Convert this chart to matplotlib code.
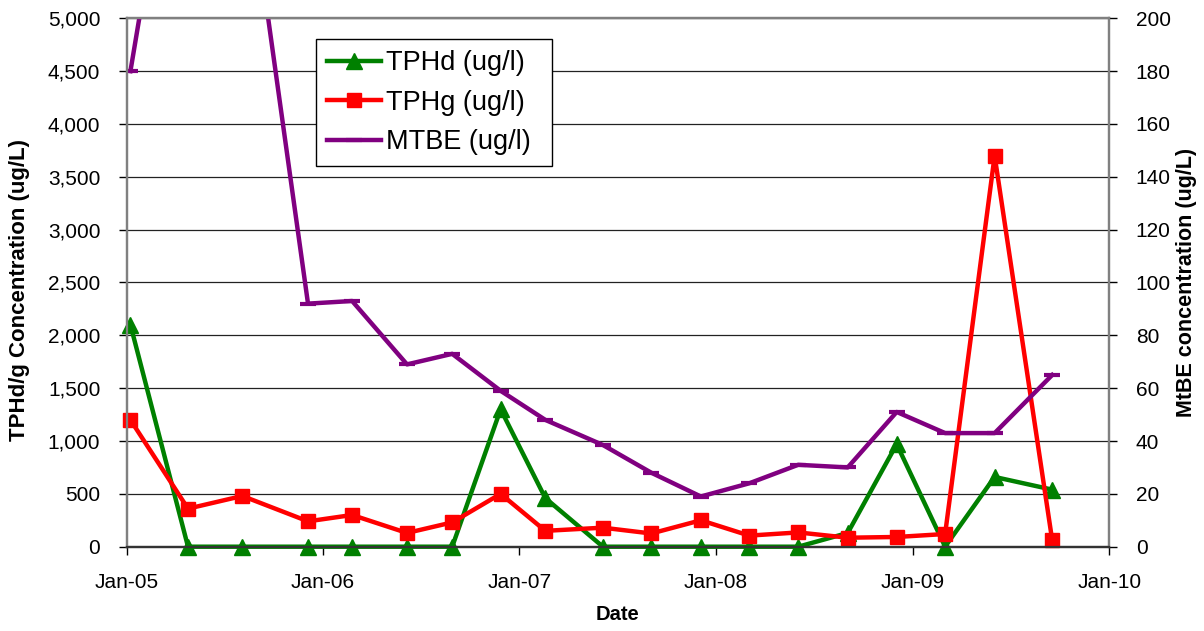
import numpy as np
import pandas as pd
import matplotlib
matplotlib.use("Agg")
import matplotlib.pyplot as plt
import matplotlib.dates as mdates
from matplotlib.ticker import FuncFormatter, MultipleLocator

plt.rcParams["font.family"] = ["Liberation Sans", "DejaVu Sans"]

# sampling dates (roughly quarterly)
dates = pd.to_datetime([
    "2005-01-08", "2005-04-25", "2005-08-04", "2005-12-04", "2006-02-24",
    "2006-06-06", "2006-08-29", "2006-11-27", "2007-02-18", "2007-06-05",
    "2007-09-03", "2007-12-04", "2008-03-03", "2008-06-02", "2008-09-02",
    "2008-12-02", "2009-03-02", "2009-06-02", "2009-09-17",
])
tphd = [2100, 0, 0, 0, 0, 0, 0, 1300, 460, 0, 0, 0, 0, 0, 130, 970, 0, 660, 540]
tphg = [1200, 360, 480, 240, 300, 130, 230, 500, 150, 180, 125, 250, 105, 135,
        85, 92, 120, 3700, 60]
mtbe = [180, 310, 270, 92, 93, 69, 73, 59, 48, 38.5, 28, 19, 24, 31, 30, 51,
        43, 43, 65]

GREEN, RED, PURPLE = "#008000", "#FF0000", "#800080"

fig = plt.figure(figsize=(12.04, 6.31), dpi=100)
ax1 = fig.add_axes([0.1052, 0.1336, 0.8161, 0.8374])
ax2 = ax1.twinx()

l1, = ax1.plot(dates, tphd, color=GREEN, lw=3.2, marker="^", ms=11,
               clip_on=False, zorder=3, label="TPHd (ug/l)")
l2, = ax1.plot(dates, tphg, color=RED, lw=3.2, marker="s", ms=10,
               clip_on=False, zorder=4, label="TPHg (ug/l)")
l3, = ax2.plot(dates, mtbe, color=PURPLE, lw=3.2, marker="_", ms=12, mew=3,
               label="MTBE (ug/l)")

ax1.set_xlim(pd.Timestamp("2005-01-01"), pd.Timestamp("2010-01-01"))
ax1.set_ylim(0, 5000)
ax2.set_ylim(0, 200)
ax1.yaxis.set_major_locator(MultipleLocator(500))
ax2.yaxis.set_major_locator(MultipleLocator(20))
ax1.yaxis.set_major_formatter(FuncFormatter(lambda v, p: f"{v:,.0f}"))
ax1.xaxis.set_major_locator(mdates.YearLocator())
ax1.xaxis.set_major_formatter(mdates.DateFormatter("%b-%y"))

ax1.grid(axis="y", color="#222222", lw=0.9)
ax1.set_axisbelow(True)

for ax in (ax1, ax2):
    for s in ax.spines.values():
        s.set_color("#808080")
        s.set_linewidth(1.6)
    ax.spines["bottom"].set_color("#333333")
ax1.tick_params(axis="both", direction="out", length=6, width=1,
                labelsize=15, pad=13)
ax2.tick_params(axis="y", direction="out", length=6, width=1,
                labelsize=15, pad=13)

ax1.set_xlabel("Date", fontsize=14.5, fontweight="bold", va="center")
ax1.set_ylabel("TPHd/g Concentration (ug/L)", fontsize=16,
               fontweight="bold", va="center")
ax2.set_ylabel("MtBE concentration (ug/L)", fontsize=15.5,
               fontweight="bold", va="center", rotation=90)
ax1.xaxis.set_label_coords(0.5, -0.129)
ax1.yaxis.set_label_coords(-0.1086, 0.485)
ax2.yaxis.set_label_coords(1.079, 0.5)

# legend box pinned to the reference position (left 316px, top 39px, 236px wide)
leg = ax2.legend(handles=[l1, l2, l3], loc="upper left", mode="expand",
                 bbox_to_anchor=(316 / 1204, 1 - 39.3 / 631, 236 / 1204, 0),
                 bbox_transform=fig.transFigure, fontsize=19.5,
                 frameon=True, fancybox=False, framealpha=1,
                 edgecolor="black", handlelength=2.0, handletextpad=0.2,
                 labelspacing=0.5, borderpad=0.4, borderaxespad=0)
leg.get_frame().set_linewidth(1.0)

fig.savefig("out.png", dpi=100)
